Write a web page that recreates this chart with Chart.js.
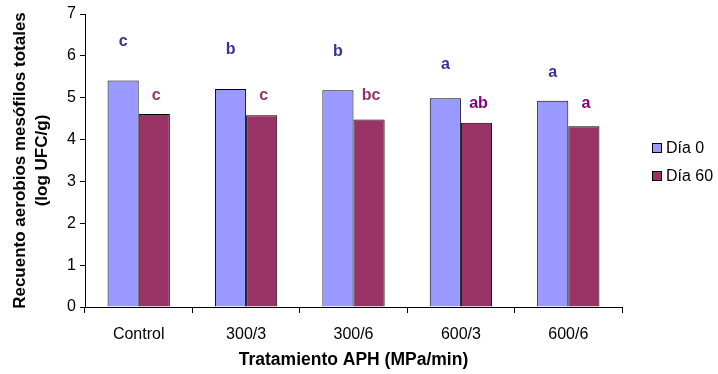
<!DOCTYPE html>
<html lang="es">
<head>
    <meta charset="UTF-8">
    <title>Recuento aerobios mesófilos totales</title>
    <script src="https://cdn.jsdelivr.net/npm/chart.js"></script>
    <style>
        html, body { margin: 0; padding: 0; background: #fff; }
        #wrap { width: 718px; height: 374px; }
    </style>
</head>
<body>
    <div id="wrap"><canvas id="chart" width="718" height="374"></canvas></div>

    <script>
        // data
        const categories = ['Control', '300/3', '300/6', '600/3', '600/6'];
        const dia0 = [5.41, 5.21, 5.18, 4.99, 4.93];
        const dia60 = [4.61, 4.58, 4.48, 4.40, 4.32];
        const yTicks = [0, 1, 2, 3, 4, 5, 6, 7];

        // significance letters and the height (log UFC/g) they sit at
        const letters0 = ['c', 'b', 'b', 'a', 'a'];
        const letters60 = ['c', 'c', 'bc', 'ab', 'a'];
        const letterLevel0 = [6.35, 6.16, 6.09, 5.78, 5.59];
        const letterLevel60 = [5.06, 5.04, 5.04, 4.85, 4.85];
        const letterColor60 = ['#993366', '#993366', '#993366', '#800080', '#800080'];

        const FONT = 'Liberation Sans, Arial, sans-serif';

        const letterPlugin = {
            id: 'letters',
            afterDatasetsDraw(chart) {
                const ctx = chart.ctx;
                const y = chart.scales.y;
                ctx.save();
                ctx.font = 'bold 16px ' + FONT;
                ctx.textAlign = 'center';
                ctx.textBaseline = 'middle';
                chart.getDatasetMeta(0).data.forEach((bar, i) => {
                    ctx.fillStyle = '#333399';
                    ctx.fillText(letters0[i], bar.x, y.getPixelForValue(letterLevel0[i]));
                });
                chart.getDatasetMeta(1).data.forEach((bar, i) => {
                    ctx.fillStyle = letterColor60[i];
                    ctx.fillText(letters60[i], bar.x + 2, y.getPixelForValue(letterLevel60[i]));
                });
                ctx.restore();
            }
        };

        const legendPlugin = {
            id: 'sideLegend',
            afterDraw(chart) {
                const ctx = chart.ctx;
                ctx.save();
                ctx.font = '16px ' + FONT;
                ctx.textBaseline = 'middle';
                chart.data.datasets.forEach((ds, i) => {
                    const top = 143 + i * 28;
                    ctx.fillStyle = ds.backgroundColor;
                    ctx.fillRect(652.5, top + 0.5, 9, 9);
                    ctx.strokeStyle = '#000';
                    ctx.lineWidth = 1;
                    ctx.strokeRect(652.5, top + 0.5, 9, 9);
                    ctx.fillStyle = '#000';
                    ctx.fillText(ds.label, 666, top + 5.5);
                });
                ctx.restore();
            }
        };

        new Chart(document.getElementById('chart'), {
            type: 'bar',
            data: {
                labels: categories,
                datasets: [
                    {
                        label: 'Día 0',
                        data: dia0,
                        backgroundColor: '#9999FF',
                        borderColor: '#000',
                        borderWidth: 1,
                        borderSkipped: 'bottom'
                    },
                    {
                        label: 'Día 60',
                        data: dia60,
                        backgroundColor: '#993366',
                        borderColor: '#000',
                        borderWidth: 1,
                        borderSkipped: 'bottom'
                    }
                ]
            },
            options: {
                responsive: false,
                animation: false,
                layout: { padding: { left: 10, right: 96, top: 14, bottom: 3 } },
                categoryPercentage: 0.58,
                barPercentage: 1.0,
                plugins: {
                    legend: { display: false },
                    tooltip: { enabled: false }
                },
                scales: {
                    x: {
                        grid: {
                            display: true,
                            drawOnChartArea: false,
                            offset: true,
                            color: '#000',
                            tickLength: 6,
                            tickColor: '#000'
                        },
                        border: { color: '#000', width: 1 },
                        ticks: {
                            color: '#000',
                            font: { family: FONT, size: 16 },
                            padding: 12
                        },
                        title: {
                            display: true,
                            text: 'Tratamiento APH (MPa/min)',
                            color: '#000',
                            font: { family: FONT, size: 17.5, weight: 'bold' },
                            padding: { top: 4, bottom: 0 }
                        },
                        afterFit(scale) { scale.height = 64; }
                    },
                    y: {
                        min: 0,
                        max: 7,
                        afterBuildTicks(scale) {
                            scale.ticks = yTicks.map(v => ({ value: v }));
                        },
                        grid: {
                            display: true,
                            drawOnChartArea: false,
                            color: '#000',
                            tickLength: 5,
                            tickColor: '#000'
                        },
                        border: { color: '#000', width: 1 },
                        ticks: {
                            color: '#000',
                            font: { family: FONT, size: 16 },
                            padding: 4
                        },
                        title: {
                            display: true,
                            text: ['Recuento aerobios mesófilos totales', '(log UFC/g)'],
                            color: '#000',
                            font: { family: FONT, size: 17, weight: 'bold', lineHeight: 1.25 },
                            padding: { top: 0, bottom: 8 }
                        },
                        afterFit(scale) { scale.width = 75; }
                    }
                }
            },
            plugins: [letterPlugin, legendPlugin]
        });
    </script>
</body>
</html>
